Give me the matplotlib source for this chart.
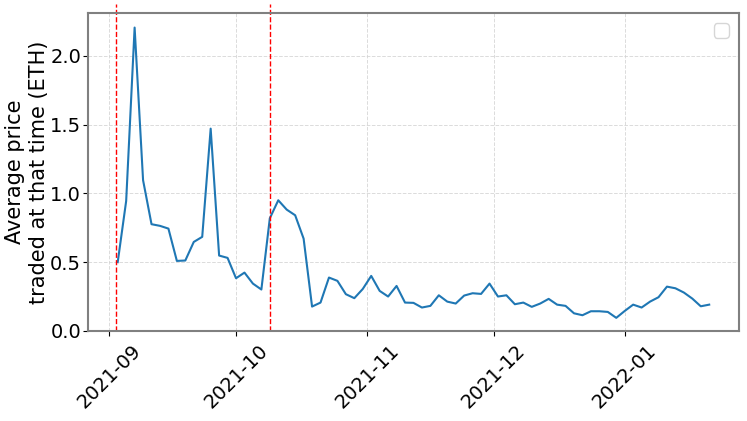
import numpy as np
import pandas as pd
import matplotlib
matplotlib.use("Agg")
import matplotlib.pyplot as plt
import matplotlib.dates as mdates

# Average traded price, one point every 2 days
start_date = "2021-09-03"
n_points = 71
avg_price = [
    0.50, 0.945, 2.206, 1.096, 0.776, 0.764, 0.744, 0.509, 0.512, 0.647,
    0.684, 1.471, 0.548, 0.531, 0.383, 0.424, 0.344, 0.301, 0.819, 0.950,
    0.882, 0.841, 0.671, 0.177, 0.206, 0.388, 0.364, 0.267, 0.238, 0.305,
    0.400, 0.291, 0.250, 0.327, 0.206, 0.204, 0.170, 0.182, 0.259, 0.213,
    0.199, 0.257, 0.274, 0.269, 0.344, 0.250, 0.259, 0.194, 0.206, 0.175,
    0.199, 0.233, 0.191, 0.182, 0.128, 0.114, 0.143, 0.143, 0.138, 0.095,
    0.145, 0.191, 0.170, 0.213, 0.245, 0.322, 0.310, 0.279, 0.235, 0.179,
    0.191,
]
event_dates = ["2021-09-02 12:00", "2021-10-09"]

dates = pd.date_range(start_date, periods=n_points, freq="2D")

fig, ax = plt.subplots(figsize=(7.47, 4.21), dpi=100)
fig.subplots_adjust(left=0.118, right=0.989, top=0.969, bottom=0.214)

ax.plot(dates, avg_price, color="#1f77b4", linewidth=1.5)
for d in event_dates:
    ax.axvline(pd.Timestamp(d), ymin=0, ymax=1.03, color="red",
               linestyle="--", linewidth=1, clip_on=False)

ax.set_ylim(bottom=0)
ax.set_ylabel("Average price\ntraded at that time (ETH)", fontsize=15, labelpad=1)
ax.xaxis.set_major_locator(mdates.MonthLocator())
ax.xaxis.set_major_formatter(mdates.DateFormatter("%Y-%m"))
ax.tick_params(axis="both", labelsize=14)
ax.tick_params(axis="y", pad=1.5)
plt.setp(ax.get_xticklabels(), rotation=45)
ax.grid(True, linestyle="--", color="lightgray", alpha=0.8, linewidth=0.7)
for s in ax.spines.values():
    s.set_color("gray")
    s.set_linewidth(1.5)
ax.legend(handles=[], loc="upper right", fontsize=14)

fig.savefig("out.png")
